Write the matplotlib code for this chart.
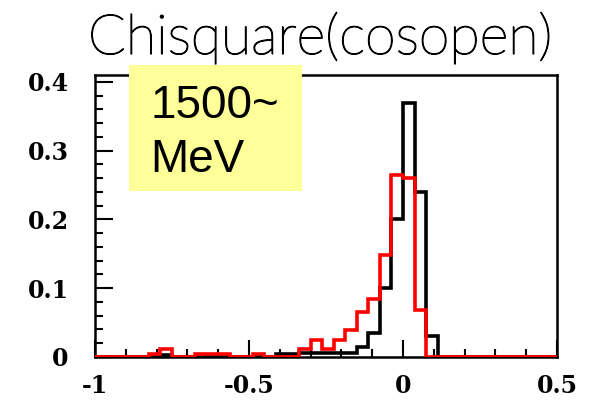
import numpy as np
import matplotlib
matplotlib.use('Agg')
import matplotlib.pyplot as plt
import matplotlib.patheffects as pe
from matplotlib.patches import Rectangle
from matplotlib.ticker import MultipleLocator
from matplotlib.font_manager import FontProperties

# histogram binning (bin width 0.0375, edges aligned on 0)
bin_width = 0.0375
bin_edges = np.arange(-27, 15) * bin_width

# black histogram
black_counts = [0, 0, 0, 0, 0, 0, 0.003, 0, 0, 0,
                0, 0, 0, 0, 0, 0, 0.004, 0.004, 0.006, 0.006,
                0.006, 0.006, 0.006, 0.015, 0.035, 0.10, 0.20, 0.37, 0.24, 0.03,
                0, 0, 0, 0, 0, 0, 0, 0, 0, 0, 0]

# red histogram
red_counts = [0, 0, 0, 0, 0, 0.004, 0.012, 0, 0, 0.004,
              0.004, 0.004, 0, 0, 0.005, 0, 0, 0, 0.012, 0.025,
              0.011, 0.025, 0.039, 0.066, 0.085, 0.148, 0.265, 0.26, 0.068, 0,
              0, 0, 0, 0, 0, 0, 0, 0, 0, 0, 0]

x_ticks = [-1, -0.5, 0, 0.5]
x_labels = ['-1', '-0.5', '0', '0.5']
y_ticks = [0, 0.1, 0.2, 0.3, 0.4]
y_labels = ['0', '0.1', '0.2', '0.3', '0.4']

W, H = 592, 403
fig = plt.figure(figsize=(W / 100, H / 100), dpi=100)
ax = fig.add_axes([95 / W, 1 - 357 / H, (557 - 95) / W, (357 - 75) / H])

ax.stairs(black_counts, bin_edges, color='black', linewidth=2.6, zorder=3)
ax.stairs(red_counts, bin_edges, color='#ff0000', linewidth=2.6, zorder=4)

ax.set_xlim(-1, 0.5)
ax.set_ylim(0, 0.41)

ax.set_xticks(x_ticks)
ax.set_xticklabels(x_labels)
ax.set_yticks(y_ticks)
ax.set_yticklabels(y_labels)
ax.xaxis.set_minor_locator(MultipleLocator(0.1))
ax.yaxis.set_minor_locator(MultipleLocator(0.02))

tick_font = FontProperties(family='DejaVu Serif', weight='bold', size=17)
for lab in ax.get_xticklabels() + ax.get_yticklabels():
    lab.set_fontproperties(tick_font)

ax.tick_params(axis='x', which='major', direction='in', length=12, width=1.5, pad=12)
ax.tick_params(axis='x', which='minor', direction='in', length=6, width=1.5)
ax.tick_params(axis='y', which='major', direction='in', length=13, width=1.5, pad=19)
ax.tick_params(axis='y', which='minor', direction='in', length=6, width=1.5)
for s in ax.spines.values():
    s.set_linewidth(1.8)

# title
fig.text(320 / W, 1 - 54 / H, 'Chisquare(cosopen)', ha='center', va='baseline',
         fontsize=40, fontweight='light', family=['Lato', 'DejaVu Sans'],
         path_effects=[pe.withStroke(linewidth=0.9, foreground='black')])

# yellow label box
box = Rectangle((129 / W, 1 - 191 / H), (302 - 129) / W, (191 - 65) / H,
                transform=fig.transFigure, facecolor='#ffff99', edgecolor='none',
                zorder=10)
fig.patches.append(box)
fig.text(150 / W, 1 - 118 / H, '1500~', ha='left', va='baseline', fontsize=33,
         family='Liberation Sans', zorder=11)
fig.text(150 / W, 1 - 172 / H, 'MeV', ha='left', va='baseline', fontsize=33,
         family='Liberation Sans', zorder=11)

fig.savefig('out.png', dpi=100)
